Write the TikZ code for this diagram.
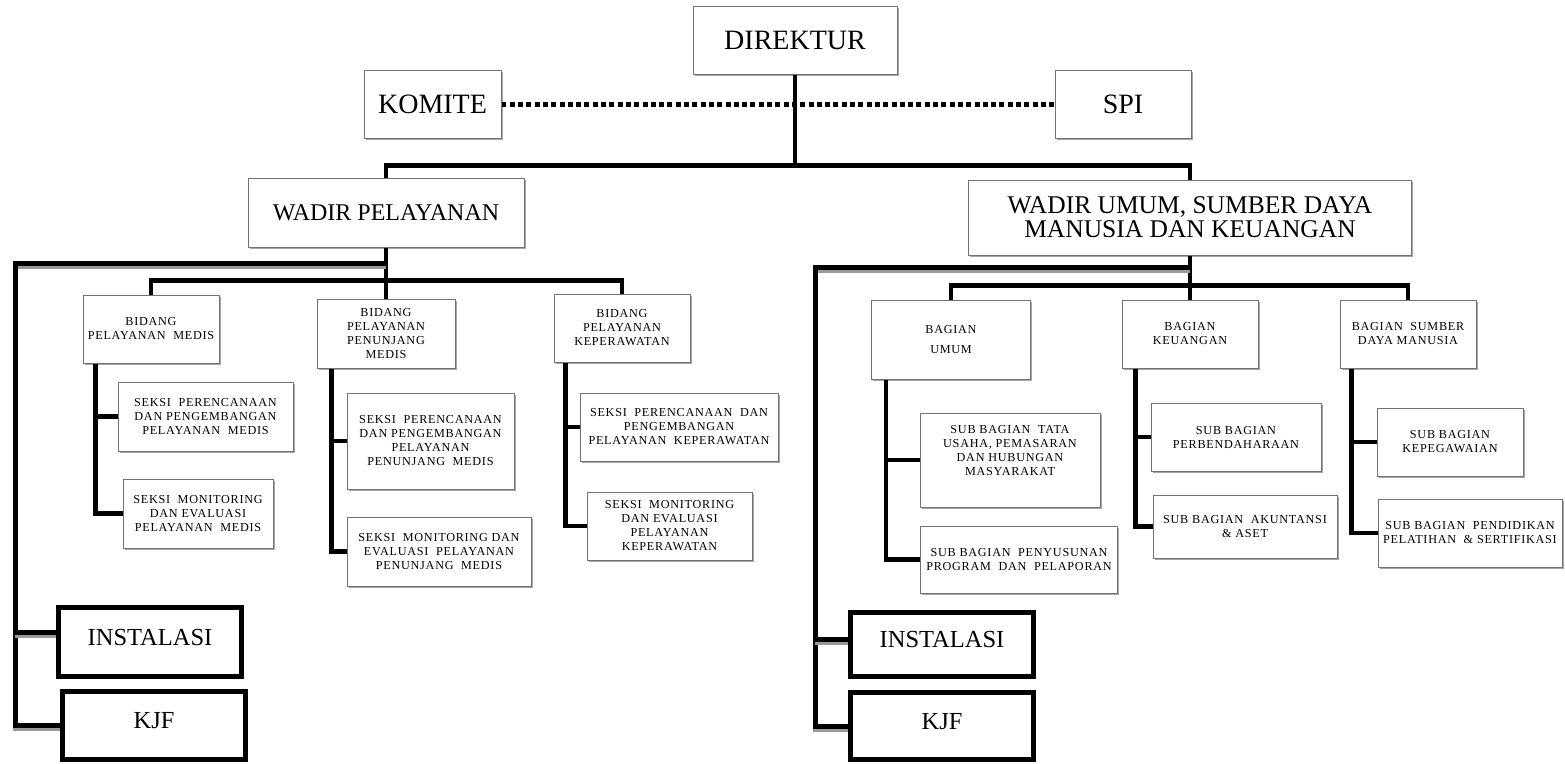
\documentclass[tikz,border=0pt]{standalone}
\usepackage{fontspec}
\setmainfont{Liberation Serif}
\newfontfamily\smallserif[LetterSpace=6]{Liberation Serif}
\usetikzlibrary{shadows,backgrounds}
\begin{document}
\begin{tikzpicture}[x=1pt,y=-1pt,
  sz/.style 2 args={minimum width=#1pt, minimum height=#2pt},
  box/.style={draw=black!55, line width=0.9pt, fill=white, inner sep=1pt, align=center,
    drop shadow={shadow xshift=1.6pt, shadow yshift=-2pt, opacity=0.35, fill=black}},
  big/.style={box, font=\fontsize{28}{28}\selectfont},
  mid/.style={box, font=\fontsize{25.5}{24}\selectfont},
  small/.style={box, font=\smallserif\fontsize{12.2}{14}\selectfont},
  heavybox/.style={draw=black, line width=5pt, fill=white, inner sep=1pt,
    font=\fontsize{24.5}{24}\selectfont, text height=17pt, text depth=11pt},
  conn/.style={line width=4.5pt, draw=black},
  trunk/.style={line width=5pt, draw=black,
    preaction={draw=black!40, line width=5pt, transform canvas={yshift=-3pt}}},
  dotline/.style={line width=5pt, draw=black, dash pattern=on 5pt off 3.3pt}
]
\useasboundingbox (0,0) rectangle (1565,763);

% top level
\node[big, sz={204}{68}] (dir) at (795,40) {DIREKTUR};
\node[big, sz={137}{68}] (komite) at (432.5,104) {KOMITE};
\node[big, sz={136}{68}] (spi) at (1123,104) {SPI};
\node[box, font=\fontsize{24}{24}\selectfont, sz={276}{69}] (wp) at (386,212.5) {WADIR PELAYANAN};
\node[mid, sz={443}{75}] (wu) at (1190,217.5) {WADIR UMUM, SUMBER DAYA\\MANUSIA DAN KEUANGAN};

% left bidang
\node[small, sz={136}{68}] (bpm) at (151,329) {BIDANG\\PELAYANAN\ \ MEDIS};
\node[small, sz={138}{69}] (bppm) at (386,333.5) {BIDANG\\PELAYANAN\\PENUNJANG\\MEDIS};
\node[small, sz={136}{68}] (bpk) at (622,328) {BIDANG\\PELAYANAN\\KEPERAWATAN};

\node[small, sz={175}{69}] (s1) at (205.5,416.5) {SEKSI\ \ PERENCANAAN\\DAN PENGEMBANGAN\\PELAYANAN\ \ MEDIS};
\node[small, sz={150}{69}] (s2) at (198,513.5) {SEKSI\ \ MONITORING\\DAN EVALUASI\\PELAYANAN\ \ MEDIS};
\node[small, sz={167}{96}] (s3) at (430.5,441) {SEKSI\ \ PERENCANAAN\\DAN PENGEMBANGAN\\PELAYANAN\\PENUNJANG\ \ MEDIS};
\node[small, sz={184}{69}] (s4) at (439,551.5) {SEKSI\ \ MONITORING DAN\\EVALUASI\ \ PELAYANAN\\PENUNJANG\ \ MEDIS};
\node[small, sz={198}{68}] (s5) at (679,427) {SEKSI\ \ PERENCANAAN\ \ DAN\\PENGEMBANGAN\\PELAYANAN\ \ KEPERAWATAN};
\node[small, sz={165}{68}] (s6) at (669.5,526) {SEKSI\ \ MONITORING\\DAN EVALUASI\\PELAYANAN\\KEPERAWATAN};

% right bagian
\node[small, sz={159}{79}] (bu) at (951,339.5) {BAGIAN\\[6pt]UMUM};
\node[small, sz={136}{68}] (bk) at (1190,334) {BAGIAN\\KEUANGAN};
\node[small, sz={136}{68}] (bsdm) at (1408,334) {BAGIAN\ \ SUMBER\\DAYA MANUSIA};

\node[small, sz={180}{94}] (sb1) at (1010,460) {SUB BAGIAN\ \ TATA\\USAHA, PEMASARAN\\DAN HUBUNGAN\\MASYARAKAT\\[6pt]\mbox{}};
\node[small, sz={197}{67}] (sb2) at (1019,559.5) {SUB BAGIAN\ \ PENYUSUNAN\\PROGRAM\ \ DAN\ \ PELAPORAN};
\node[small, sz={170}{68}] (sk1) at (1236,437) {SUB BAGIAN\\PERBENDAHARAAN};
\node[small, sz={184}{63}] (sk2) at (1245,526.5) {SUB BAGIAN\ \ AKUNTANSI\\\& ASET};
\node[small, sz={146}{68}] (ss1) at (1450,442) {SUB BAGIAN\\KEPEGAWAIAN};
\node[small, sz={184}{68}] (ss2) at (1470,533) {SUB BAGIAN\ \ PENDIDIKAN\\PELATIHAN\ \ \& SERTIFIKASI};

% instalasi / kjf
\node[heavybox, sz={183}{69}] (instL) at (150,642) {INSTALASI};
\node[heavybox, sz={183}{68}] (kjfL) at (154,725.5) {KJF};
\node[heavybox, sz={183}{64}] (instR) at (942,644.5) {INSTALASI};
\node[heavybox, sz={183}{67}] (kjfR) at (942,726) {KJF};

\begin{scope}[on background layer]
% top connectors
\draw[conn] (dir.south) -- ++(0,91) coordinate (tb) -| (wp.north);
\draw[conn] (tb) -| (wu.north);
\draw[dotline] (komite.east) -- (spi.west);

% left branch
\draw[conn] (wp.south) -- ++(0,33) coordinate (lb);
\draw[conn] (bpm.north) |- (lb) -| (bpk.north);
\draw[conn] (lb) -- (bppm.north);
\coordinate (lt) at (15,263);
\draw[trunk] (wp.south |- lt) -- (lt) -- (lt |- kjfL.west) -- (kjfL.west);
\coordinate (instLc) at ([yshift=10pt]instL.west);
\draw[trunk] (lt |- instLc) -- (instLc);

\coordinate (v1) at ([xshift=13pt]bpm.south west);
\draw[conn] (v1) |- (s2.west);
\draw[conn] (v1 |- s1.west) -- (s1.west);
\coordinate (v2) at ([xshift=15pt]bppm.south west);
\draw[conn] (v2) |- (s4.west);
\draw[conn] (v2 |- s3.west) -- (s3.west);
\coordinate (v3) at ([xshift=12pt]bpk.south west);
\draw[conn] (v3) |- (s6.west);
\draw[conn] (v3 |- s5.west) -- (s5.west);

% right branch
\draw[conn] (wu.south) -- ++(0,30) coordinate (rb);
\draw[conn] (bu.north) |- (rb) -| (bsdm.north);
\draw[conn] (rb) -- (bk.north);
\coordinate (rt) at (815,267);
\draw[trunk] (wu.south |- rt) -- (rt) -- (rt |- kjfR.west) -- (kjfR.west);
\coordinate (instRc) at ([yshift=5.5pt]instR.west);
\draw[trunk] (rt |- instRc) -- (instRc);

\coordinate (v4) at ([xshift=15pt]bu.south west);
\draw[conn] (v4) |- (sb2.west);
\draw[conn] (v4 |- sb1.west) -- (sb1.west);
\coordinate (v5) at ([xshift=14pt]bk.south west);
\draw[conn] (v5) |- (sk2.west);
\draw[conn] (v5 |- sk1.west) -- (sk1.west);
\coordinate (v6) at ([xshift=12pt]bsdm.south west);
\draw[conn] (v6) |- (ss2.west);
\draw[conn] (v6 |- ss1.west) -- (ss1.west);
\end{scope}
\end{tikzpicture}
\end{document}
